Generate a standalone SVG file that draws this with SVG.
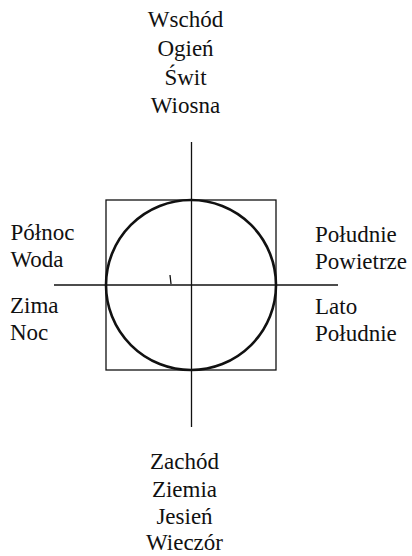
<svg xmlns="http://www.w3.org/2000/svg" width="412" height="556" viewBox="0 0 412 556">
<style>
text { font-family: 'Liberation Serif', 'Times New Roman', serif; font-size: 23px; fill: #111; }
.c { text-anchor: middle; }
.ln { stroke: #111; stroke-width: 1.3; fill: none; }
</style>
<rect width="412" height="556" fill="#fff"/>
<g id="connectors">
<line class="ln" x1="191.5" y1="142" x2="191.5" y2="427"/>
<line class="ln" x1="54" y1="285" x2="338" y2="285"/>
<line class="ln" x1="170" y1="275" x2="171" y2="284"/>
</g>
<g id="square"><rect class="ln" x="106" y="200" width="170" height="170"/></g>
<g id="circle"><circle cx="191" cy="285" r="85" fill="none" stroke="#111" stroke-width="2.6"/></g>
<g id="top">
<text class="c" x="185.5" y="27">Wschód</text>
<text class="c" x="185.5" y="56">Ogień</text>
<text class="c" x="185.5" y="84.5">Świt</text>
<text class="c" x="185.5" y="113">Wiosna</text>
</g>
<g id="bottom">
<text class="c" x="184.5" y="469">Zachód</text>
<text class="c" x="184.5" y="497">Ziemia</text>
<text class="c" x="184.5" y="524">Jesień</text>
<text class="c" x="184.5" y="550">Wieczór</text>
</g>
<g id="left">
<text x="10.5" y="240">Północ</text>
<text x="10.5" y="267">Woda</text>
<text x="10" y="313">Zima</text>
<text x="10" y="340">Noc</text>
</g>
<g id="right">
<text x="315" y="242">Południe</text>
<text x="315" y="269">Powietrze</text>
<text x="315" y="314">Lato</text>
<text x="315" y="341">Południe</text>
</g>
</svg>
